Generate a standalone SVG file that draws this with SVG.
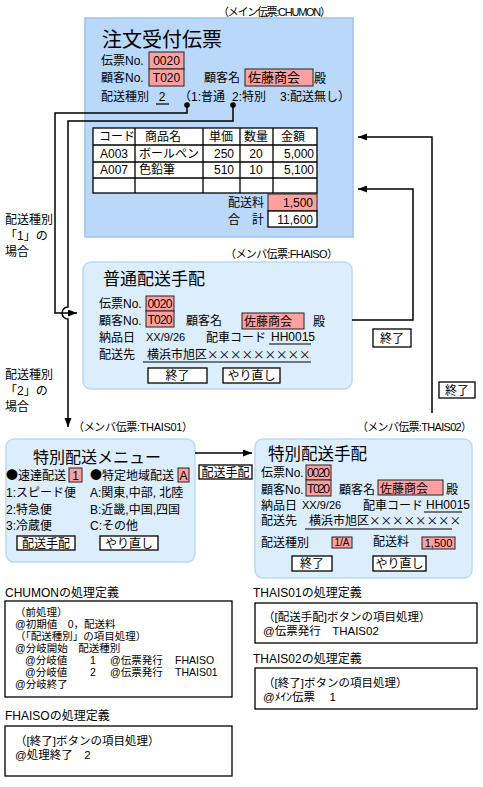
<svg xmlns="http://www.w3.org/2000/svg" width="483" height="787" viewBox="0 0 483 787">
<style>
text { font-family: "Liberation Sans", "Noto Sans CJK JP", sans-serif; font-size: 12px; fill: #000; }
.cjk { font-family: "Noto Sans CJK JP", sans-serif; }
.s11 { font-size: 11px; }
.s10 { font-size: 10px; }
.s13 { font-size: 13px; }
.d { font-size: 10.5px; }
.d2 { font-size: 11.5px; }
.mainbg { fill: #BAD8FA; stroke: #9CC3EC; stroke-width: 1.5; }
.subbg { fill: #DCEDFC; stroke: #BCD9F5; stroke-width: 1.5; }
.pink { fill: #FFA0A0; stroke: #222; stroke-width: 1; }
.wbox { fill: #fff; stroke: #000; stroke-width: 1.3; }
.ul { stroke: #000; stroke-width: 1.2; }
.conn { fill: none; stroke: #000; stroke-width: 1.5; }
.mid { text-anchor: middle; }
.end { text-anchor: end; }
</style>
<defs>
<marker id="arr" markerUnits="userSpaceOnUse" markerWidth="10" markerHeight="8" refX="9" refY="3.5" orient="auto">
<path d="M0,0 L9,3.5 L0,7 z" fill="#000"/>
</marker>
</defs>
<rect width="483" height="787" fill="#fff"/>

<g id="chumon">
<text x="218" y="16" class="s11" textLength="113">（メイン伝票:CHUMON）</text>
<rect x="85" y="18" width="268" height="219" class="mainbg"/>
<text x="102" y="47" style="font-size:20px">注文受付伝票</text>
<text x="101" y="65">伝票No.</text>
<rect x="149" y="52" width="35" height="17" class="pink"/>
<text x="166.5" y="65" class="mid">0020</text>
<text x="101" y="82">顧客No.</text>
<rect x="149" y="69" width="35" height="17" class="pink"/>
<text x="166.5" y="82" class="mid">T020</text>
<text x="204" y="82">顧客名</text>
<rect x="245" y="69" width="68" height="17" class="pink"/>
<text x="248" y="82" class="s13">佐藤商会</text>
<text x="314" y="83">殿</text>
<text x="101" y="101">配送種別</text>
<text x="162" y="101" class="mid">2</text>
<line x1="156" y1="104" x2="169" y2="104" class="ul"/>
<text x="179" y="101">（1:普通</text>
<text x="232" y="101">2:特別</text>
<text x="280" y="101">3:配送無し）</text>
<circle cx="187" cy="105" r="2.8" fill="#000"/>
<circle cx="233" cy="105" r="2.8" fill="#000"/>
<g id="table">
<rect x="93" y="128" width="224" height="65" class="wbox"/>
<path d="M93,145 H317 M93,162 H317 M93,178 H317 M135,128 V193 M203,128 V193 M240,128 V193 M273,128 V193" stroke="#000" stroke-width="1.3" fill="none"/>
<text x="99" y="141">コード</text>
<text x="145" y="141">商品名</text>
<text x="209" y="141">単価</text>
<text x="244" y="141">数量</text>
<text x="281" y="141">金額</text>
<text x="100" y="158">A003</text>
<text x="139" y="158">ボールペン</text>
<text x="234" y="158" class="end">250</text>
<text x="256" y="158" class="mid">20</text>
<text x="314" y="158" class="end">5,000</text>
<text x="100" y="174">A007</text>
<text x="139" y="174">色鉛筆</text>
<text x="234" y="174" class="end">510</text>
<text x="256" y="174" class="mid">10</text>
<text x="314" y="174" class="end">5,100</text>
</g>
<text x="228" y="207">配送料</text>
<rect x="268" y="194" width="49" height="17" class="pink"/>
<text x="313" y="207" class="end">1,500</text>
<text x="228" y="224">合　計</text>
<rect x="268" y="211" width="49" height="16" class="wbox"/>
<text x="313" y="224" class="end">11,600</text>
</g>

<g id="fhaiso">
<text x="225" y="258" class="s11" textLength="113">（メンバ伝票:FHAISO）</text>
<rect x="83" y="262" width="269" height="127" rx="8" class="subbg"/>
<text x="103" y="285" style="font-size:17px">普通配送手配</text>
<text x="99" y="308">伝票No.</text>
<rect x="146" y="296" width="28" height="15" class="pink"/>
<text x="160" y="308" class="mid" textLength="25">0020</text>
<text x="99" y="325">顧客No.</text>
<rect x="146" y="311" width="28" height="16" class="pink"/>
<text x="160" y="324" class="mid" textLength="25">T020</text>
<text x="186" y="325">顧客名</text>
<rect x="242" y="313" width="62" height="16" class="pink"/>
<text x="244" y="326">佐藤商会</text>
<text x="313" y="326">殿</text>
<text x="99" y="342">納品日</text>
<text x="146" y="341" class="s11">XX/9/26</text>
<text x="206" y="342">配車コード</text>
<text x="271" y="341">HH0015</text>
<line x1="269" y1="344" x2="311" y2="344" class="ul"/>
<text x="99" y="359">配送先</text>
<text x="147" y="359">横浜市旭区<tspan class="cjk" style="font-size:11.5px">×××××××××</tspan></text>
<line x1="143" y1="362" x2="311" y2="362" class="ul"/>
<rect x="148" y="368" width="59" height="15" class="wbox"/>
<text x="177.5" y="380" class="mid">終了</text>
<rect x="223" y="368" width="57" height="15" class="wbox"/>
<text x="251.5" y="380" class="mid">やり直し</text>
</g>

<g id="thais01">
<text x="73" y="431" class="s11" textLength="120">（メンバ伝票:THAIS01）</text>
<rect x="6" y="439" width="189" height="123" rx="8" class="subbg"/>
<text x="33" y="463" style="font-size:16px">特別配送メニュー</text>
<text x="6" y="480"><tspan class="cjk">●</tspan>速達配送</text>
<rect x="69" y="468" width="13" height="14" class="pink"/>
<text x="75.5" y="480" class="mid">1</text>
<text x="90" y="480"><tspan class="cjk">●</tspan>特定地域配送</text>
<rect x="178" y="468" width="11" height="14" class="pink"/>
<text x="183.5" y="480" class="mid">A</text>
<text x="6" y="497">1:スピード便</text>
<text x="90" y="497">A:関東,中部, 北陸</text>
<text x="6" y="514">2:特急便</text>
<text x="90" y="514">B:近畿,中国,四国</text>
<text x="6" y="530">3:冷蔵便</text>
<text x="90" y="530">C:その他</text>
<rect x="17" y="536" width="58" height="14" class="wbox"/>
<text x="46" y="548" class="mid">配送手配</text>
<rect x="100" y="536" width="58" height="14" class="wbox"/>
<text x="129" y="548" class="mid">やり直し</text>
</g>

<g id="thais02">
<text x="357" y="431" class="s11" textLength="115">（メンバ伝票:THAIS02）</text>
<rect x="255" y="439" width="217" height="139" rx="8" class="subbg"/>
<text x="268" y="460" style="font-size:16.5px">特別配送手配</text>
<text x="261" y="477">伝票No.</text>
<rect x="306" y="465" width="25" height="15" class="pink"/>
<text x="318.5" y="477" class="mid" textLength="23">0020</text>
<text x="261" y="494">顧客No.</text>
<rect x="306" y="480" width="25" height="16" class="pink"/>
<text x="318.5" y="493" class="mid" textLength="23">T020</text>
<text x="339" y="494">顧客名</text>
<rect x="378" y="480" width="65" height="15" class="pink"/>
<text x="380" y="493">佐藤商会</text>
<text x="446" y="494">殿</text>
<text x="261" y="510">納品日</text>
<text x="302" y="509" class="s11">XX/9/26</text>
<text x="363" y="510">配車コード</text>
<text x="426" y="509">HH0015</text>
<line x1="424" y1="512" x2="462" y2="512" class="ul"/>
<text x="261" y="525">配送先</text>
<text x="309" y="525">横浜市旭区<tspan class="cjk" style="font-size:11.5px">××××××××</tspan></text>
<line x1="305" y1="529" x2="452" y2="529" class="ul"/>
<text x="261" y="547">配送種別</text>
<rect x="332" y="537" width="20" height="11" class="pink"/>
<text x="342" y="546" class="mid s10">1/A</text>
<text x="373" y="546">配送料</text>
<rect x="422" y="537" width="33" height="12" class="pink"/>
<text x="438.5" y="547" class="mid s11">1,500</text>
<rect x="292" y="556" width="40" height="15" class="wbox"/>
<text x="312" y="568" class="mid">終了</text>
<rect x="373" y="556" width="53" height="15" class="wbox"/>
<text x="399.5" y="568" class="mid">やり直し</text>
</g>

<g id="connectors">
<path d="M187,105 V113 H55 V313 H77" class="conn" marker-end="url(#arr)"/>
<path d="M233,105 V121 H68 V307 A6,6 0 0 0 68,319 V427" class="conn" marker-end="url(#arr)"/>
<path d="M195,453 H252" class="conn" marker-end="url(#arr)"/>
<path d="M352,320 H413 V189 H358" class="conn" marker-end="url(#arr)"/>
<path d="M432,413 V137 H358" class="conn" marker-end="url(#arr)"/>
</g>

<g id="labels">
<text x="5" y="224">配送種別</text>
<text x="5" y="240">「1」の</text>
<text x="5" y="256">場合</text>
<text x="5" y="379">配送種別</text>
<text x="5" y="395">「2」の</text>
<text x="5" y="411">場合</text>
<rect x="199" y="465" width="53" height="14" class="wbox"/>
<text x="225.5" y="477" class="mid">配送手配</text>
<rect x="373" y="329" width="38" height="18" class="wbox"/>
<text x="392" y="343" class="mid">終了</text>
<rect x="439" y="382" width="36" height="16" class="wbox"/>
<text x="457" y="395" class="mid">終了</text>
</g>

<g id="def-chumon">
<text x="5" y="597">CHUMONの処理定義</text>
<rect x="5" y="601" width="227" height="96" class="wbox"/>
<text x="15" y="616" class="d">（前処理）</text>
<text x="15" y="628" class="d">@初期値　0，配送料</text>
<text x="15" y="640" class="d">（「配送種別」の項目処理）</text>
<text x="15" y="652" class="d">@分岐開始　配送種別</text>
<text x="25" y="664" class="d">@分岐値</text>
<text x="90" y="664" class="d">1</text>
<text x="110" y="664" class="d">@伝票発行</text>
<text x="175" y="664" class="d">FHAISO</text>
<text x="25" y="676" class="d">@分岐値</text>
<text x="90" y="676" class="d">2</text>
<text x="110" y="676" class="d">@伝票発行</text>
<text x="175" y="676" class="d">THAIS01</text>
<text x="15" y="688" class="d">@分岐終了</text>
</g>

<g id="def-fhaiso">
<text x="5" y="720">FHAISOの処理定義</text>
<rect x="5" y="726" width="227" height="50" class="wbox"/>
<text x="15" y="745" class="d2">（[終了]ボタンの項目処理）</text>
<text x="15" y="759" class="d2">@処理終了　2</text>
</g>

<g id="def-thais01">
<text x="253" y="597">THAIS01の処理定義</text>
<rect x="255" y="603" width="222" height="40" class="wbox"/>
<text x="263" y="621" class="d2">（[配送手配]ボタンの項目処理）</text>
<text x="263" y="635" class="d2">@伝票発行　THAIS02</text>
</g>

<g id="def-thais02">
<text x="253" y="663">THAIS02の処理定義</text>
<rect x="255" y="668" width="222" height="41" class="wbox"/>
<text x="263" y="687" class="d2">（[終了]ボタンの項目処理）</text>
<text x="263" y="701" class="d2">@ﾒｲﾝ伝票　 1</text>
</g>
</svg>
